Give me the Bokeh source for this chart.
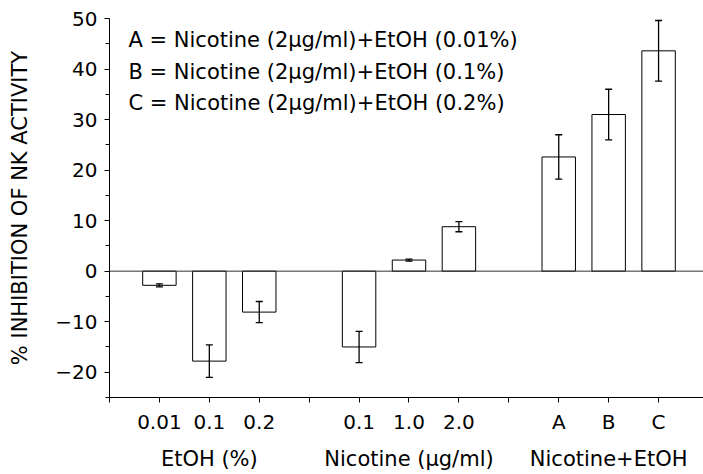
from bokeh.plotting import figure
from bokeh.models import (ColumnDataSource, Whisker, TeeHead, Span, Label,
                          FixedTicker, LinearAxis, Range1d)
from bokeh.embed import file_html
from bokeh.resources import INLINE

# ---- data ----
groups = ["EtOH (%)", "Nicotine (μg/ml)", "Nicotine+EtOH"]
group_labels = [["0.01", "0.1", "0.2"], ["0.1", "1.0", "2.0"], ["A", "B", "C"]]
group_values = [[-2.8, -17.8, -8.1], [-15.0, 2.2, 8.8], [22.6, 31.0, 43.6]]
group_errors = [[0.3, 3.2, 2.1], [3.1, 0.2, 1.0], [4.4, 5.0, 6.0]]
legend_lines = [
    "A = Nicotine (2μg/ml)+EtOH (0.01%)",
    "B = Nicotine (2μg/ml)+EtOH (0.1%)",
    "C = Nicotine (2μg/ml)+EtOH (0.2%)",
]
y_label = "% INHIBITION OF NK ACTIVITY"
y_ticks = [-20, -10, 0, 10, 20, 30, 40, 50]
y_minor = [-25, -15, -5, 5, 15, 25, 35, 45]

FONT = "DejaVu Sans"

# slot layout: one empty slot before each group
xs, vals, errs, tick_pos, tick_lab, centers = [], [], [], [], [], []
slot = 0
for gi, g in enumerate(groups):
    tick_pos.append(slot); tick_lab.append("")
    slot += 1
    start = slot
    for lab, v, e in zip(group_labels[gi], group_values[gi], group_errors[gi]):
        xs.append(slot); vals.append(v); errs.append(e)
        tick_pos.append(slot); tick_lab.append(lab)
        slot += 1
    centers.append((start + slot - 1) / 2)

src = ColumnDataSource(dict(x=xs, top=vals,
                            upper=[v + e for v, e in zip(vals, errs)],
                            lower=[v - e for v, e in zip(vals, errs)]))

p = figure(width=703, height=474, output_backend="svg", toolbar_location=None,
           x_range=Range1d(0, 11.9), y_range=Range1d(-25, 50),
           min_border_left=109, min_border_right=0, min_border_top=18,
           min_border_bottom=77)
p.outline_line_color = None
p.xgrid.visible = False
p.ygrid.visible = False
p.background_fill_color = "white"
p.border_fill_color = "white"

p.vbar(x="x", top="top", bottom=0, width=0.67, source=src,
       fill_color="white", line_color="black", line_width=1)

p.add_layout(Span(location=0, dimension="width", line_color="#333333",
                  line_width=1))

head_u = TeeHead(size=7, line_color="black", line_width=1.3)
head_l = TeeHead(size=7, line_color="black", line_width=1.3)
p.add_layout(Whisker(source=src, base="x", upper="upper", lower="lower",
                     line_color="black", line_width=1.3, level="overlay",
                     upper_head=head_u, lower_head=head_l))

# legend-like text block
for i, t in enumerate(legend_lines):
    p.add_layout(Label(x=0.38, y=45.7 - i * 6.2, text=t, text_font=FONT,
                       text_font_size="21px", text_baseline="middle",
                       text_color="black"))

# y axis
ya = p.yaxis[0]
ya.ticker = FixedTicker(ticks=y_ticks, minor_ticks=y_minor)
ya.major_label_overrides = {t: (str(t).replace("-", "\u2212")) for t in y_ticks}
ya.major_tick_out = 5
ya.major_tick_in = 0
ya.minor_tick_out = 4
ya.minor_tick_in = 0
ya.major_label_standoff = 7
ya.major_label_text_font = FONT
ya.major_label_text_font_size = "20px"
ya.major_label_text_color = "black"
ya.axis_label = y_label
ya.axis_label_text_font = FONT
ya.axis_label_text_font_size = "21px"
ya.axis_label_text_font_style = "normal"
ya.axis_label_text_color = "black"
ya.axis_label_standoff = 20
ya.axis_line_color = "black"
ya.major_tick_line_color = "black"
ya.minor_tick_line_color = "black"

# x axis
xa = p.xaxis[0]
xa.ticker = FixedTicker(ticks=tick_pos, minor_ticks=[])
xa.major_label_overrides = {pos: lab for pos, lab in zip(tick_pos, tick_lab)}
xa.major_tick_out = 5
xa.major_tick_in = 0
xa.minor_tick_line_color = None
xa.major_label_standoff = 7
xa.major_label_text_font = FONT
xa.major_label_text_font_size = "20px"
xa.major_label_text_color = "black"
xa.axis_line_color = "black"
xa.major_tick_line_color = "black"

# group label axis
ga = LinearAxis(ticker=FixedTicker(ticks=centers, minor_ticks=[]),
                major_label_overrides={c: g for c, g in zip(centers, groups)})
ga.axis_line_color = None
ga.major_tick_line_color = None
ga.major_tick_out = 0
ga.major_tick_in = 0
ga.minor_tick_line_color = None
ga.major_label_standoff = 10
ga.major_label_text_font = FONT
ga.major_label_text_font_size = "21px"
ga.major_label_text_color = "black"
p.add_layout(ga, "below")

open("out.html", "w").write(file_html(p, INLINE))
